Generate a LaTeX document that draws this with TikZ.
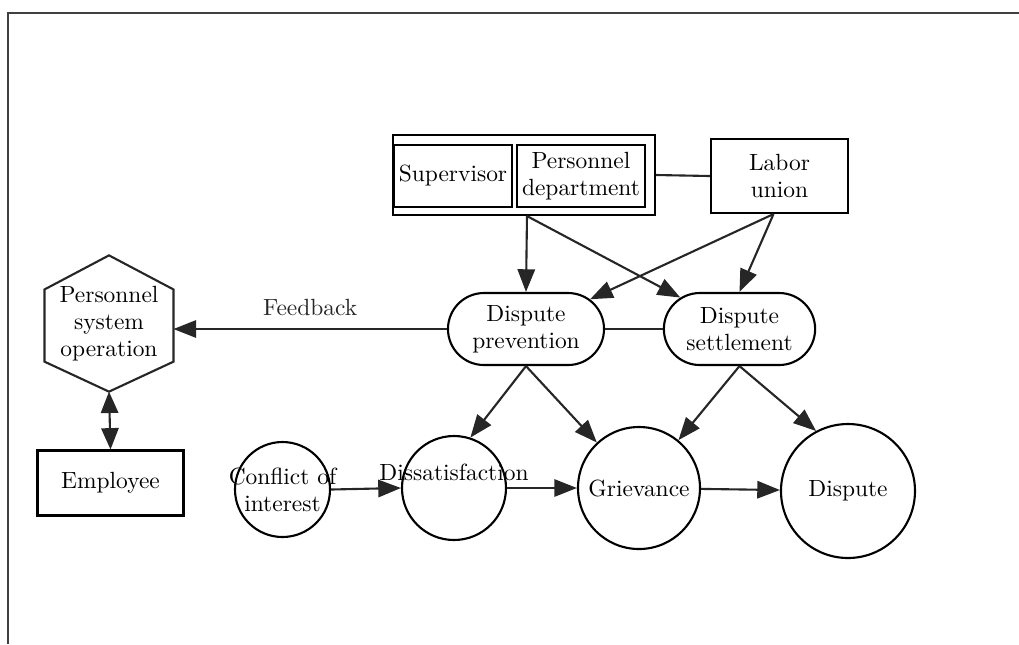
\documentclass[tikz,border=0pt]{standalone}
\usepackage{tikz}
\usetikzlibrary{
    arrows.meta,
    positioning,
    calc,
    shapes.misc
}

\begin{document}
\begin{tikzpicture}[
    x=0.015cm,
    y=-0.015cm,
    font=\fontsize{10}{11.5}\selectfont,
    box/.style={
      draw,
      line width=0.9pt,
      align=center,
      inner sep=2pt
    },
    stage/.style={
      draw,
      rounded rectangle,
      line width=0.9pt,
      align=center,
      inner xsep=0.23cm,
      minimum height=1.08cm
    },
    issue/.style={
      draw,
      circle,
      line width=0.9pt,
      align=center,
      inner sep=0pt
    },
    plain/.style={line width=0.9pt, black!85},
    link/.style={
      line width=0.9pt,
      black!85,
      -{Triangle[length=0.34cm, width=0.26cm]}
    },
    twoway/.style={
      line width=0.9pt,
      black!85,
      {Triangle[length=0.32cm, width=0.26cm]}-{Triangle[length=0.32cm, width=0.26cm]}
    }
  ]

  \useasboundingbox (0,0) rectangle (1019,644);

  % frame {{{
  \draw[line width=1.2pt, black!75] (8,644) -- (8,13) -- (1019,13);
  % }}}

  % management and union {{{
  \node[
    box,
    minimum width=3.93cm,
    minimum height=1.2cm
  ] (grp) at (524,175) {};
  \node[
    box,
    minimum width=1.71cm,
    minimum height=0.93cm
  ] (sup) at (453,176) {Supervisor};
  \node[
    box,
    minimum width=1.89cm,
    minimum height=0.93cm
  ] (pers) at (581,176) {Personnel\\department};
  \node[
    box,
    minimum width=2.055cm,
    minimum height=1.11cm
  ] (labor) at (779.5,176) {Labor\\union};
  % }}}

  % dispute handling {{{
  \node[stage] (prev) at (526,329) {Dispute\\prevention};
  \node[stage] (settle) at (739.5,329) {Dispute\\settlement};
  % }}}

  % personnel system {{{
  \node[
    align=center,
    minimum width=1.92cm,
    minimum height=2.03cm,
    inner sep=0pt
  ] (pso) at (109,323.5) {Personnel\\system\\operation};
  \draw[plain]
    (pso.north)
    -- ($(pso.north east)!.25!(pso.south east)$)
    -- ($(pso.north east)!.78!(pso.south east)$)
    -- (pso.south)
    -- ($(pso.north west)!.78!(pso.south west)$)
    -- ($(pso.north west)!.25!(pso.south west)$)
    -- cycle;
  \node[
    box,
    minimum width=2.19cm,
    minimum height=0.975cm
  ] (emp) at (110.5,483) {Employee};
  % }}}

  % escalation {{{
  \node[
    issue,
    minimum size=1.425cm,
    label={[align=center]center:{Conflict of\\interest}}
  ] (coi) at (282.5,489.5) {};
  \node[
    issue,
    minimum size=1.56cm,
    label={[yshift=0.24cm]center:Dissatisfaction}
  ] (dis) at (454,488) {};
  \node[issue, minimum size=1.83cm] (grv) at (639,488) {Grievance};
  \node[issue, minimum size=2.01cm] (dsp) at (848,491) {Dispute};
  % }}}

  % connectors {{{
  \draw[plain] (grp.east) -- (labor.west);
  \draw[plain] (prev.east) -- (settle.west);
  \draw[link] ($(grp.south)+(3,0)$) -- (prev.north);
  \draw[link] ($(grp.south)+(3,0)$) -- (settle);
  \draw[link] ($(labor.south)+(-6,0)$) -- (prev);
  \draw[link] ($(labor.south)+(-6,0)$) -- (settle.north);
  \draw[link] (prev.west) -- (prev.west -| pso.east)
    node[midway, above=2pt] {Feedback};
  \draw[twoway] (pso.south) -- (emp.north);
  \draw[link] (coi.east) -- (dis.west);
  \draw[link] (dis.east) -- (grv.west);
  \draw[link] (grv) -- (dsp);
  \draw[link] (prev.south) -- (dis.72);
  \draw[link] (prev.south) -- (grv);
  \draw[link] (settle.south) -- (grv);
  \draw[link] (settle.south) -- (dsp.118);
  % }}}

\end{tikzpicture}
\end{document}
